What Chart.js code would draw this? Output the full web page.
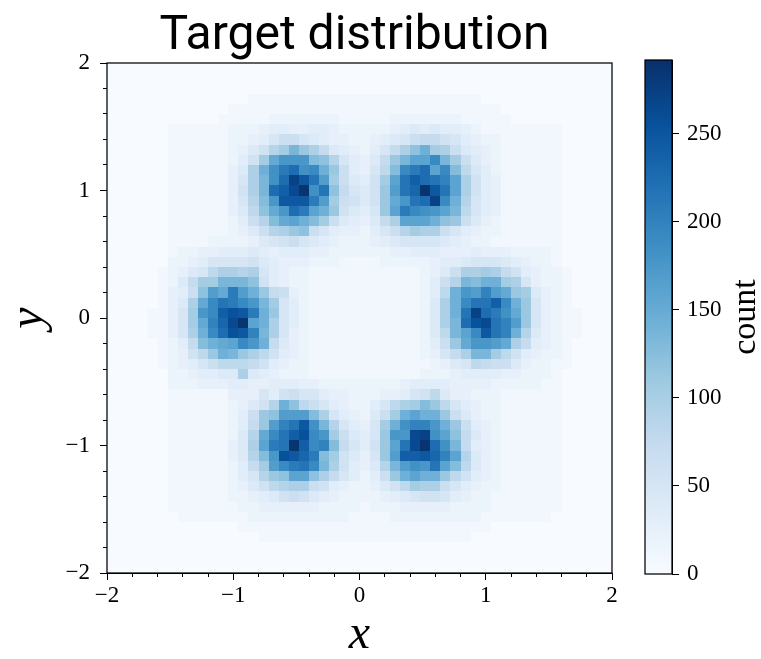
<!DOCTYPE html>
<html>
<head>
<meta charset="utf-8">
<script src="https://cdn.jsdelivr.net/npm/chart.js@4.4.1/dist/chart.umd.min.js"></script>
<style>
  html, body { margin: 0; padding: 0; background: #ffffff; }
  #wrap { position: relative; width: 761px; height: 659px; }
  #main { position: absolute; left: 0; top: 0; }
  #bar { position: absolute; left: 630px; top: 0; }
</style>
</head>
<body>
<div id="wrap">
  <canvas id="main" width="708" height="659"></canvas>
  <canvas id="bar" width="131" height="659"></canvas>
</div>
<script>
// ---- data -------------------------------------------------------------
const titleText = 'Target distribution';
const xLabel = 'x';
const yLabel = 'y';
const colorbarLabel = 'count';

const axisMin = -2;
const axisMax = 2;
const majorTicks = [-2, -1, 0, 1, 2];
const minorTicks = [-1.8, -1.6, -1.4, -1.2, -0.8, -0.6, -0.4, -0.2,
                    0.2, 0.4, 0.6, 0.8, 1.2, 1.4, 1.6, 1.8];
const colorbarTicks = [0, 50, 100, 150, 200, 250];
const colorbarMax = 292;

// 50 x 50 histogram, top row first (y = 2 down to y = -2), left to right.
// Each symbol is a count level; count = index in levelDigits * countStep.
const countStep = 8;
const levelDigits = '0123456789abcdefghijklmnopqrstuvwxyzA';
const countRows = [
  '0000000000 0000000000 0000000000 0000000000 0000000000',
  '0000000000 0000000000 0000000000 0000000000 0000000000',
  '0000000000 0000000000 0000000000 0000000000 0000000000',
  '0000000000 0000111111 1111111111 1111111000 0000000000',
  '0000000000 0011111111 1111111111 1111111110 0000000000',
  '0000000000 0111112222 2221111122 2222211111 0000000000',
  '0000001111 1122234433 4432222234 5454432111 1111100000',
  '0000001111 1122346886 5433223456 8997643221 1111100000',
  '0000001111 112357bdhe c95432469c fidc854321 1111100000',
  '0000001111 11247djmmm gfb64359eh kkohd85321 1111100000',
  '0000001111 1135cinqsn oie8436ago qskoga6421 1111100000',
  '0000001111 1136chnsyv rld8547dkr usrpkc7431 1111100000',
  '0000001111 1137chsuxA nrf9657elr tAvrkc7431 1111100000',
  '0000001111 1136bgmvvv qld8757ejm rsyoib6431 1111100000',
  '0000001111 1135afjmsq kie7546ekq onmkha6431 1111100000',
  '0000001111 11248bgjki gd854359ck kkife85321 1111100000',
  '0000001111 112358bcef 864332468b dcc8643221 1111100000',
  '0000001111 2222356786 5432223456 6665432211 1111100000',
  '0000001223 3444543444 3322222233 4443334333 2222100000',
  '0000002234 6666754333 2221111222 2234456665 4322100000',
  '0000012356 accbc64322 1111111111 12358ccdc9 7432210000',
  '000001259d dhhhf74322 1111111111 1248bhgiid c632210000',
  '000001348f ljqlie9832 1111111111 124aimlplj ed53210000',
  '00000135cj orqomhd642 1111111111 125ciorruo ie63210000',
  '00001136dm ouwvqie642 1111111111 125cirysqn je63211000',
  '00001136dj ptxAkic642 1111111111 125chswxrp le63211000',
  '00001136ci oswvphc632 1111111111 125ahkovrp ib53211000',
  '000001249g ijkomi9532 1111111111 1248ejmmlj c943210000',
  '000001237a eiheca7432 1111111111 12369chhda 7432210000',
  '0000012346 8aaa974322 1111111111 112356a988 5322110000',
  '0000002234 455c543222 1111111111 1222344443 3222100000',
  '0000002223 3344334443 3222222223 4444333322 2221100000',
  '0000001111 1133364786 6433222334 67a5332221 1111100000',
  '0000001111 112357bifa 86432246ac dgea643221 1111100000',
  '0000001111 11248eflll gc643258di kiie853221 1111100000',
  '0000001111 11249elprv nhb6436din ppmie84321 1111100000',
  '0000001111 1125bjoruw omd8546emm xynkf95321 1111100000',
  '0000001111 1135ckqrAu opg9647ekr xAsnh94321 1111100000',
  '0000001111 1135bgmwvt qgd7536elu uvtpkb5321 1111100000',
  '0000001111 11249dloqr ohc7435bhl nmrkga5321 1111100000',
  '0000001111 11246befkk fc964248ei kiiea74321 1111100000',
  '0000001111 112357abcc 874322357a dcc8643221 1111100000',
  '0000001111 1122345787 5432222345 6776432211 1111100000',
  '0000001111 1112233333 3222212223 3333222211 1111100000',
  '0000000111 1111222222 2222111122 2222222111 1111000000',
  '0000000000 0001111111 1111111111 1111111100 0000000000',
  '0000000000 0000011111 1111111111 1111110000 0000000000',
  '0000000000 0000000000 0000000000 0000000000 0000000000',
  '0000000000 0000000000 0000000000 0000000000 0000000000',
  '0000000000 0000000000 0000000000 0000000000 0000000000'
];

// ---- decode the histogram into one point per bin ---------------------
const nBins = countRows.length;
const binWidth = (axisMax - axisMin) / nBins;
const cells = [];
countRows.forEach((row, r) => {
  const levels = row.replace(/\s+/g, '');
  for (let c = 0; c < levels.length; c++) {
    cells.push({
      x: axisMin + (c + 0.5) * binWidth,
      y: axisMax - (r + 0.5) * binWidth,
      v: levelDigits.indexOf(levels[c]) * countStep
    });
  }
});

// ---- "Blues" colour map ----------------------------------------------
const bluesStops = ['#f7fbff', '#deebf7', '#c6dbef', '#9ecae1', '#6baed6',
                    '#4292c6', '#2171b5', '#08519c', '#08306b'];
const bluesRgb = bluesStops.map(h => [1, 3, 5].map(i => parseInt(h.substr(i, 2), 16)));
function blues(t) {
  t = Math.max(0, Math.min(1, t));
  const s = t * (bluesRgb.length - 1);
  const i = Math.min(Math.floor(s), bluesRgb.length - 2);
  const f = s - i;
  const a = bluesRgb[i], b = bluesRgb[i + 1];
  const mix = k => Math.round(a[k] + (b[k] - a[k]) * f);
  return `rgb(${mix(0)},${mix(1)},${mix(2)})`;
}

const fmtTick = v => (v < 0 ? '\u2212' + Math.abs(v) : String(v));
const allTicks = majorTicks.concat(minorTicks).sort((a, b) => a - b);
const tickFont = { family: 'Liberation Serif', size: 23 };
const alignPx = p => Math.round(p - 0.5) + 0.5;

// ---- heat map chart ---------------------------------------------------
const heatPlugin = {
  id: 'heatCells',
  beforeDatasetsDraw(chart) {
    const { ctx, chartArea, scales: { x, y } } = chart;
    ctx.save();
    ctx.beginPath();
    ctx.rect(chartArea.left, chartArea.top, chartArea.width, chartArea.height);
    ctx.clip();
    chart.data.datasets[0].data.forEach(p => {
      const l = Math.round(x.getPixelForValue(p.x - binWidth / 2));
      const r = Math.round(x.getPixelForValue(p.x + binWidth / 2));
      const t = Math.round(y.getPixelForValue(p.y + binWidth / 2));
      const b = Math.round(y.getPixelForValue(p.y - binWidth / 2));
      ctx.fillStyle = blues(p.v / colorbarMax);
      ctx.fillRect(l, t, r - l, b - t);
    });
    ctx.restore();
  },
  afterDraw(chart) {
    const { ctx, chartArea, scales: { x, y } } = chart;
    ctx.save();
    ctx.strokeStyle = '#000';
    ctx.lineWidth = 1.25;
    ctx.strokeRect(chartArea.left, chartArea.top, chartArea.width, chartArea.height);
    ctx.lineWidth = 1;
    ctx.beginPath();
    majorTicks.forEach(v => {
      const px = alignPx(x.getPixelForValue(v));
      ctx.moveTo(px, chartArea.bottom);
      ctx.lineTo(px, chartArea.bottom + 7);
      const py = alignPx(y.getPixelForValue(v));
      ctx.moveTo(chartArea.left - 7, py);
      ctx.lineTo(chartArea.left, py);
    });
    ctx.stroke();
    // plot title, centred over the figure block
    ctx.fillStyle = '#000';
    ctx.font = '48px Roboto';
    ctx.textAlign = 'center';
    ctx.textBaseline = 'alphabetic';
    ctx.fillText(titleText, (chartArea.left + chartArea.right) / 2 - 5, chartArea.top - 14);
    ctx.restore();
  }
};

function axisOptions(isX) {
  return {
    type: 'linear',
    position: isX ? 'bottom' : 'left',
    min: axisMin,
    max: axisMax,
    afterBuildTicks: s => { s.ticks = allTicks.map(v => ({ value: v })); },
    afterFit: s => { if (isX) { s.height = 86; } else { s.width = 107; } },
    ticks: {
      autoSkip: false,
      maxRotation: 0,
      padding: isX ? 5 : 13,
      color: '#000',
      font: tickFont,
      callback: v => (majorTicks.includes(v) ? fmtTick(v) : '')
    },
    grid: { drawOnChartArea: false, drawTicks: true, tickLength: 4, tickColor: '#000', tickWidth: 1 },
    border: { display: true, color: '#000', width: 1 },
    title: {
      display: true,
      text: isX ? xLabel : yLabel,
      color: '#000',
      font: { family: 'Liberation Serif', style: 'italic', size: 48, lineHeight: 1 },
      padding: isX ? { top: 0, bottom: 0 } : { top: 5, bottom: 0 }
    }
  };
}

new Chart(document.getElementById('main'), {
  type: 'scatter',
  data: { datasets: [{ data: cells, pointRadius: 0, pointHoverRadius: 0 }] },
  options: {
    responsive: false,
    animation: false,
    events: [],
    layout: { padding: { left: 0, right: 96, top: 63, bottom: 0 } },
    plugins: {
      legend: { display: false },
      tooltip: { enabled: false },
      title: { display: false }
    },
    scales: { x: axisOptions(true), y: axisOptions(false) }
  },
  plugins: [heatPlugin]
});

// ---- colour bar chart -------------------------------------------------
const colorbarPlugin = {
  id: 'colorbarStrip',
  beforeDatasetsDraw(chart) {
    const { ctx, chartArea: a } = chart;
    const g = ctx.createLinearGradient(0, a.bottom, 0, a.top);
    bluesStops.forEach((c, i) => g.addColorStop(i / (bluesStops.length - 1), c));
    ctx.save();
    ctx.fillStyle = g;
    ctx.fillRect(a.left, a.top, a.width, a.height);
    ctx.restore();
  },
  afterDraw(chart) {
    const { ctx, chartArea: a } = chart;
    ctx.save();
    ctx.strokeStyle = '#000';
    ctx.lineWidth = 1.25;
    ctx.strokeRect(a.left, a.top, a.width, a.height);
    ctx.translate(a.right + 74, (a.top + a.bottom) / 2);
    ctx.rotate(-Math.PI / 2);
    ctx.fillStyle = '#000';
    ctx.font = '34px "Liberation Serif"';
    ctx.textAlign = 'center';
    ctx.textBaseline = 'middle';
    ctx.fillText(colorbarLabel, 0, 0);
    ctx.restore();
  }
};

new Chart(document.getElementById('bar'), {
  type: 'scatter',
  data: { datasets: [{ data: [] }] },
  options: {
    responsive: false,
    animation: false,
    events: [],
    layout: { padding: { left: 15, right: 0, top: 60, bottom: 85 } },
    plugins: { legend: { display: false }, tooltip: { enabled: false } },
    scales: {
      x: { display: false },
      y: {
        type: 'linear',
        position: 'right',
        min: 0,
        max: colorbarMax,
        afterBuildTicks: s => { s.ticks = colorbarTicks.map(v => ({ value: v })); },
        afterFit: s => { s.width = 89; },
        ticks: { padding: 8, color: '#000', font: tickFont },
        grid: { drawOnChartArea: false, drawTicks: true, tickLength: 7, tickColor: '#000', tickWidth: 1 },
        border: { display: true, color: '#000', width: 1 }
      }
    }
  },
  plugins: [colorbarPlugin]
});
</script>
</body>
</html>
